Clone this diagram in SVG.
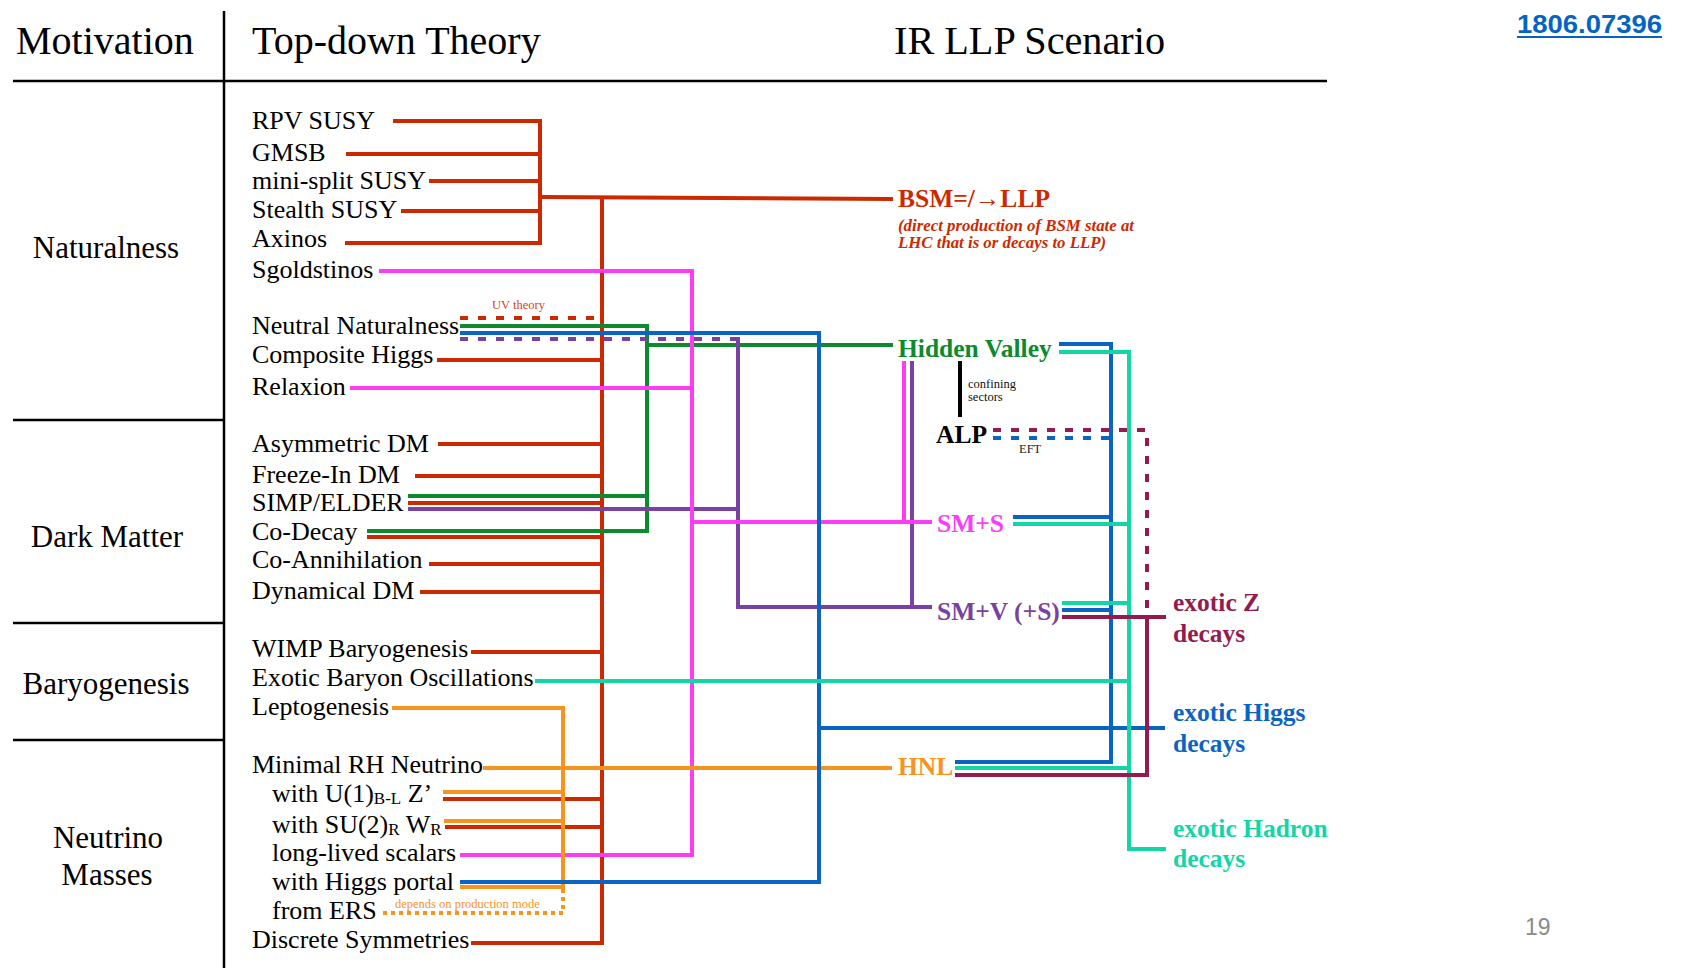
<svg xmlns="http://www.w3.org/2000/svg" width="1687" height="968" viewBox="0 0 1687 968">
  <style>
    .hdr { font-family: "Liberation Serif", "Times New Roman", serif; font-size: 40px; fill: #000; }
    .mot { font-family: "Liberation Serif", "Times New Roman", serif; font-size: 31px; fill: #000; text-anchor: middle; }
    .item { font-family: "Liberation Serif", "Times New Roman", serif; font-size: 26px; fill: #000; }
    .sub { font-size: 17px; }
    .ir { font-family: "Liberation Serif", "Times New Roman", serif; font-size: 25.5px; font-weight: bold; }
    .note { font-family: "Liberation Serif", "Times New Roman", serif; font-size: 12.5px; }
    .grid { stroke: #000; stroke-width: 2.5; fill: none; }
    .c { fill: none; stroke-width: 4; stroke-linejoin: miter; stroke-linecap: butt; }
    .dash { stroke-dasharray: 8 10; }
    .dot { stroke-dasharray: 4 4; }
    .red { stroke: #CC2900; } .mag { stroke: #FF3CF5; } .grn { stroke: #0D8A2E; }
    .blu { stroke: #0A64C4; } .pur { stroke: #7A42A0; } .tea { stroke: #12D6A6; }
    .mar { stroke: #951A50; } .org { stroke: #F7941D; } .blk { stroke: #000; }
  </style>

  <rect width="1687" height="968" fill="#fff"/>

  <!-- table frame -->
  <g id="frame" class="grid">
    <line x1="224" y1="11" x2="224" y2="968"/>
    <line x1="13" y1="81" x2="1327" y2="81"/>
    <line x1="13" y1="420" x2="224" y2="420"/>
    <line x1="13" y1="623" x2="224" y2="623"/>
    <line x1="13" y1="740" x2="224" y2="740"/>
  </g>

  <g id="headers">
    <text class="hdr" x="16" y="54">Motivation</text>
    <text class="hdr" x="252" y="54">Top-down Theory</text>
    <text class="hdr" x="894" y="54" textLength="271" lengthAdjust="spacingAndGlyphs">IR LLP Scenario</text>
  </g>

  <g id="arxiv-ref">
    <text x="1517" y="33" font-family="Liberation Sans, Arial, sans-serif" font-size="25" font-weight="bold" fill="#0563C1" textLength="145" lengthAdjust="spacingAndGlyphs">1806.07396</text>
    <line x1="1517" y1="37" x2="1662" y2="37" stroke="#0563C1" stroke-width="2"/>
  </g>

  <!-- motivations -->
  <g id="mot-naturalness"><text class="mot" x="106" y="258">Naturalness</text></g>
  <g id="mot-dark-matter"><text class="mot" x="107" y="547">Dark Matter</text></g>
  <g id="mot-baryogenesis"><text class="mot" x="106" y="694">Baryogenesis</text></g>
  <g id="mot-neutrino-masses">
    <text class="mot" x="108" y="848">Neutrino</text>
    <text class="mot" x="107" y="885">Masses</text>
  </g>

  <!-- connectors -->
  <g id="connectors">
    <!-- SUSY-like theories to BSM -->
    <g class="c red">
      <polyline points="393,121 540,121 540,243 345,243"/>
      <line x1="346" y1="154" x2="540" y2="154"/>
      <line x1="429" y1="181" x2="540" y2="181"/>
      <line x1="401" y1="211" x2="540" y2="211"/>
      <polyline points="540,197 893,199"/>
      <polyline points="602,198 602,943 471,943"/>
      <line x1="437" y1="360" x2="602" y2="360"/>
      <line x1="438" y1="444" x2="602" y2="444"/>
      <line x1="415" y1="476" x2="602" y2="476"/>
      <line x1="408" y1="503" x2="602" y2="503"/>
      <line x1="367" y1="537" x2="602" y2="537"/>
      <line x1="429" y1="564" x2="602" y2="564"/>
      <line x1="420" y1="592" x2="602" y2="592"/>
      <line x1="471" y1="652" x2="602" y2="652"/>
      <line x1="443" y1="799" x2="602" y2="799"/>
      <line x1="445" y1="827" x2="602" y2="827"/>
    </g>
    <line class="c red dash" x1="460" y1="318" x2="595" y2="318"/>

    <!-- to Hidden Valley -->
    <g class="c grn">
      <polyline points="460,326 647,326 647,531 367,531"/>
      <line x1="408" y1="496" x2="647" y2="496"/>
      <line x1="647" y1="345" x2="893" y2="345"/>
    </g>

    <!-- to SM+V -->
    <line class="c pur dash" x1="460" y1="339" x2="738" y2="339"/>
    <g class="c pur">
      <polyline points="738,337 738,607 932,607"/>
      <line x1="408" y1="509" x2="738" y2="509"/>
      <line x1="912" y1="361" x2="912" y2="607"/>
    </g>

    <!-- to SM+S -->
    <g class="c mag">
      <polyline points="379,271 692,271 692,855 460,855"/>
      <line x1="350" y1="388" x2="692" y2="388"/>
      <line x1="692" y1="522" x2="932" y2="522"/>
      <line x1="904" y1="361" x2="904" y2="522"/>
    </g>

    <!-- to HNL -->
    <g class="c org">
      <polyline points="392,708 563,708 563,887 460,887"/>
      <line x1="483" y1="768" x2="892" y2="768"/>
      <line x1="443" y1="792" x2="563" y2="792"/>
      <line x1="444" y1="821" x2="563" y2="821"/>
    </g>
    <polyline class="c org dot" points="563,889 563,913 379,913"/>

    <!-- exotic Higgs decays -->
    <g class="c blu">
      <polyline points="460,333 819,333 819,882 460,882"/>
      <line x1="819" y1="728" x2="1165" y2="728"/>
      <polyline points="1059,344 1111,344 1111,762 955,762"/>
      <line x1="1013" y1="517" x2="1111" y2="517"/>
      <line x1="1062" y1="610" x2="1111" y2="610"/>
    </g>
    <line class="c blu dash" x1="993" y1="438" x2="1109" y2="438"/>

    <!-- exotic Hadron decays -->
    <g class="c tea">
      <polyline points="1059,352 1129,352 1129,849 1166,849"/>
      <line x1="1013" y1="524" x2="1129" y2="524"/>
      <line x1="1062" y1="603" x2="1129" y2="603"/>
      <line x1="535" y1="681" x2="1129" y2="681"/>
      <line x1="955" y1="768" x2="1129" y2="768"/>
    </g>

    <!-- exotic Z decays -->
    <polyline class="c mar dash" points="993,430 1147,430 1147,615"/>
    <g class="c mar">
      <line x1="1062" y1="617" x2="1166" y2="617"/>
      <polyline points="1147,615 1147,775 955,775"/>
    </g>

    <!-- confining sectors -->
    <line class="c blk" x1="960" y1="361" x2="960" y2="417"/>
  </g>

  <!-- top-down theories -->
  <g id="th-rpv-susy"><text class="item" x="252" y="129">RPV SUSY</text></g>
  <g id="th-gmsb"><text class="item" x="252" y="161">GMSB</text></g>
  <g id="th-mini-split"><text class="item" x="252" y="189">mini-split SUSY</text></g>
  <g id="th-stealth-susy"><text class="item" x="252" y="218">Stealth SUSY</text></g>
  <g id="th-axinos"><text class="item" x="252" y="247">Axinos</text></g>
  <g id="th-sgoldstinos"><text class="item" x="252" y="278">Sgoldstinos</text></g>
  <g id="th-neutral-naturalness">
    <text class="item" x="252" y="334">Neutral Naturalness</text>
    <text class="note" x="492" y="309" fill="#D9402A">UV theory</text>
  </g>
  <g id="th-composite-higgs"><text class="item" x="252" y="363">Composite Higgs</text></g>
  <g id="th-relaxion"><text class="item" x="252" y="395">Relaxion</text></g>
  <g id="th-asymmetric-dm"><text class="item" x="252" y="452">Asymmetric DM</text></g>
  <g id="th-freeze-in"><text class="item" x="252" y="483">Freeze-In DM</text></g>
  <g id="th-simp-elder"><text class="item" x="252" y="511">SIMP/ELDER</text></g>
  <g id="th-co-decay"><text class="item" x="252" y="540">Co-Decay</text></g>
  <g id="th-co-annihilation"><text class="item" x="252" y="568">Co-Annihilation</text></g>
  <g id="th-dynamical-dm"><text class="item" x="252" y="599">Dynamical DM</text></g>
  <g id="th-wimp-baryogenesis"><text class="item" x="252" y="657">WIMP Baryogenesis</text></g>
  <g id="th-exotic-baryon"><text class="item" x="252" y="686">Exotic Baryon Oscillations</text></g>
  <g id="th-leptogenesis"><text class="item" x="252" y="715">Leptogenesis</text></g>
  <g id="th-minimal-rh"><text class="item" x="252" y="773">Minimal RH Neutrino</text></g>
  <g id="th-u1"><text class="item" x="272" y="802">with U(1)<tspan class="sub" dy="2">B-L</tspan><tspan dy="-2"> Z’</tspan></text></g>
  <g id="th-su2"><text class="item" x="272" y="833">with SU(2)<tspan class="sub" dy="2">R</tspan><tspan dy="-2"> W</tspan><tspan class="sub" dy="2">R</tspan></text></g>
  <g id="th-ll-scalars"><text class="item" x="272" y="861">long-lived scalars</text></g>
  <g id="th-higgs-portal"><text class="item" x="272" y="890">with Higgs portal</text></g>
  <g id="th-ers">
    <text class="item" x="272" y="919">from ERS</text>
    <text class="note" x="395" y="908" fill="#F7941D">depends on production mode</text>
  </g>
  <g id="th-discrete"><text class="item" x="252" y="948">Discrete Symmetries</text></g>

  <!-- IR LLP scenarios -->
  <g id="ir-bsm">
    <text class="ir" x="898" y="207" fill="#CC2900">BSM=/→LLP</text>
    <text x="898" y="231" font-family="Liberation Serif, Times New Roman, serif" font-size="16" font-weight="bold" font-style="italic" fill="#CC2900" textLength="236" lengthAdjust="spacingAndGlyphs">(direct production of BSM state at</text>
    <text x="898" y="248" font-family="Liberation Serif, Times New Roman, serif" font-size="16" font-weight="bold" font-style="italic" fill="#CC2900" textLength="208" lengthAdjust="spacingAndGlyphs">LHC that is or decays to LLP)</text>
  </g>
  <g id="ir-hidden-valley"><text class="ir" x="898" y="357" fill="#0D8A2E">Hidden Valley</text></g>
  <g id="ir-confining">
    <text class="note" x="968" y="388" fill="#111">confining</text>
    <text class="note" x="968" y="401" fill="#111">sectors</text>
  </g>
  <g id="ir-alp">
    <text class="ir" x="936" y="443" fill="#000">ALP</text>
    <text class="note" x="1019" y="453" font-size="12" fill="#222">EFT</text>
  </g>
  <g id="ir-sm-s"><text class="ir" x="937" y="532" fill="#FF3CF5">SM+S</text></g>
  <g id="ir-sm-v"><text class="ir" x="937" y="620" fill="#7A42A0">SM+V (+S)</text></g>
  <g id="ir-hnl"><text class="ir" x="898" y="775" fill="#F7941D">HNL</text></g>

  <!-- signatures -->
  <g id="sig-exotic-z" class="ir" fill="#951A50">
    <text x="1173" y="611">exotic Z</text>
    <text x="1173" y="642">decays</text>
  </g>
  <g id="sig-exotic-higgs" class="ir" fill="#0A64C4">
    <text x="1173" y="721">exotic Higgs</text>
    <text x="1173" y="752">decays</text>
  </g>
  <g id="sig-exotic-hadron" class="ir" fill="#12D6A6">
    <text x="1173" y="837">exotic Hadron</text>
    <text x="1173" y="867">decays</text>
  </g>

  <g id="page-number">
    <text x="1525" y="935" font-family="Liberation Sans, Arial, sans-serif" font-size="23" fill="#8C8C8C">19</text>
  </g>
</svg>
